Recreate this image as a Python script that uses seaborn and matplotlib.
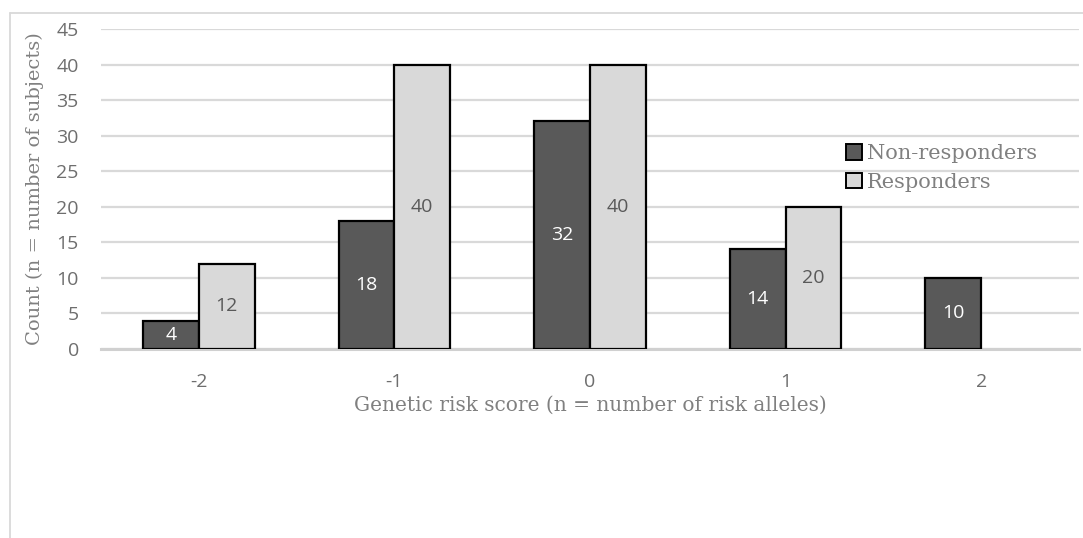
import matplotlib
matplotlib.use("Agg")
import matplotlib.pyplot as plt
import seaborn as sns
import pandas as pd
import numpy as np
from matplotlib.lines import Line2D
from matplotlib.patches import Patch

categories = ["-2", "-1", "0", "1", "2"]
non_responders = [4, 18, 32, 14, 10]
responders = [12, 40, 40, 20, np.nan]
series_names = ["Non-responders", "Responders"]
yticks = [0, 5, 10, 15, 20, 25, 30, 35, 40, 45]

df = pd.DataFrame({
    "score": categories * 2,
    "count": non_responders + responders,
    "group": [series_names[0]] * len(categories) + [series_names[1]] * len(categories),
})

sns.set_theme(style="white")
plt.rcParams['font.family'] = ['Open Sans', 'DejaVu Sans']

W, H = 1083, 538
fig = plt.figure(figsize=(W / 100, H / 100), dpi=100)
ax = fig.add_axes([101 / W, 1 - 349 / H, (1079 - 101) / W, (349 - 29) / H])

dark = "#595959"
light = "#d9d9d9"
grid = "#d9d9d9"

sns.barplot(data=df, x="score", y="count", hue="group", order=categories,
            hue_order=series_names, palette=[dark, light], width=0.57,
            edgecolor="black", linewidth=1.6, ax=ax, legend=False, zorder=3)

ax.set_ylim(0, 45)
ax.set_yticks(yticks)
ax.set_xlim(-0.5, len(categories) - 0.5)
ax.yaxis.grid(True, color=grid, linewidth=1.6, zorder=0)
ax.set_axisbelow(True)
for s in ["top", "right", "left"]:
    ax.spines[s].set_visible(False)
ax.spines["bottom"].set_color("#d0d0d0")
ax.spines["bottom"].set_linewidth(2.2)
ax.spines["bottom"].set_zorder(2)

ax.tick_params(axis="y", length=0, pad=16, labelsize=14, labelcolor="#6e6e6e")
ax.tick_params(axis="x", length=0, pad=17, labelsize=14, labelcolor="#6e6e6e")

serif = ['DejaVu Serif']
ax.set_xlabel("Genetic risk score (n = number of risk alleles)", family=serif,
              fontsize=14.5, color="#808080", labelpad=4)
ax.set_ylabel("Count (n = number of subjects)", family=serif,
              fontsize=14, color="#808080", labelpad=9)

label_colors = ["white", "#595959"]
for cont, col in zip(ax.containers, label_colors):
    vals = cont.datavalues
    labels = ["" if (v is None or np.isnan(v)) else f"{int(v)}" for v in vals]
    ax.bar_label(cont, labels=labels, label_type="center", color=col, fontsize=14)

handles = [Patch(facecolor=dark, edgecolor="black", linewidth=1.4),
           Patch(facecolor=light, edgecolor="black", linewidth=1.4)]
leg = ax.legend(handles, series_names, loc="upper left",
                bbox_to_anchor=((838 - 101) / 978, (349 - 136) / 320),
                frameon=False, prop={"family": serif, "size": 15},
                handlelength=0.75, handleheight=0.75, handletextpad=0.25,
                labelspacing=0.45, borderaxespad=0)
for t in leg.get_texts():
    t.set_color("#808080")

# outer chart-area border (left and top edges visible)
fig.add_artist(Line2D([9.5 / W, 9.5 / W], [0, 1 - 13 / H], transform=fig.transFigure,
                      color="#d9d9d9", linewidth=1.3))
fig.add_artist(Line2D([9.5 / W, 1], [1 - 13 / H, 1 - 13 / H], transform=fig.transFigure,
                      color="#d9d9d9", linewidth=1.3))

fig.savefig("out.png", dpi=100)
